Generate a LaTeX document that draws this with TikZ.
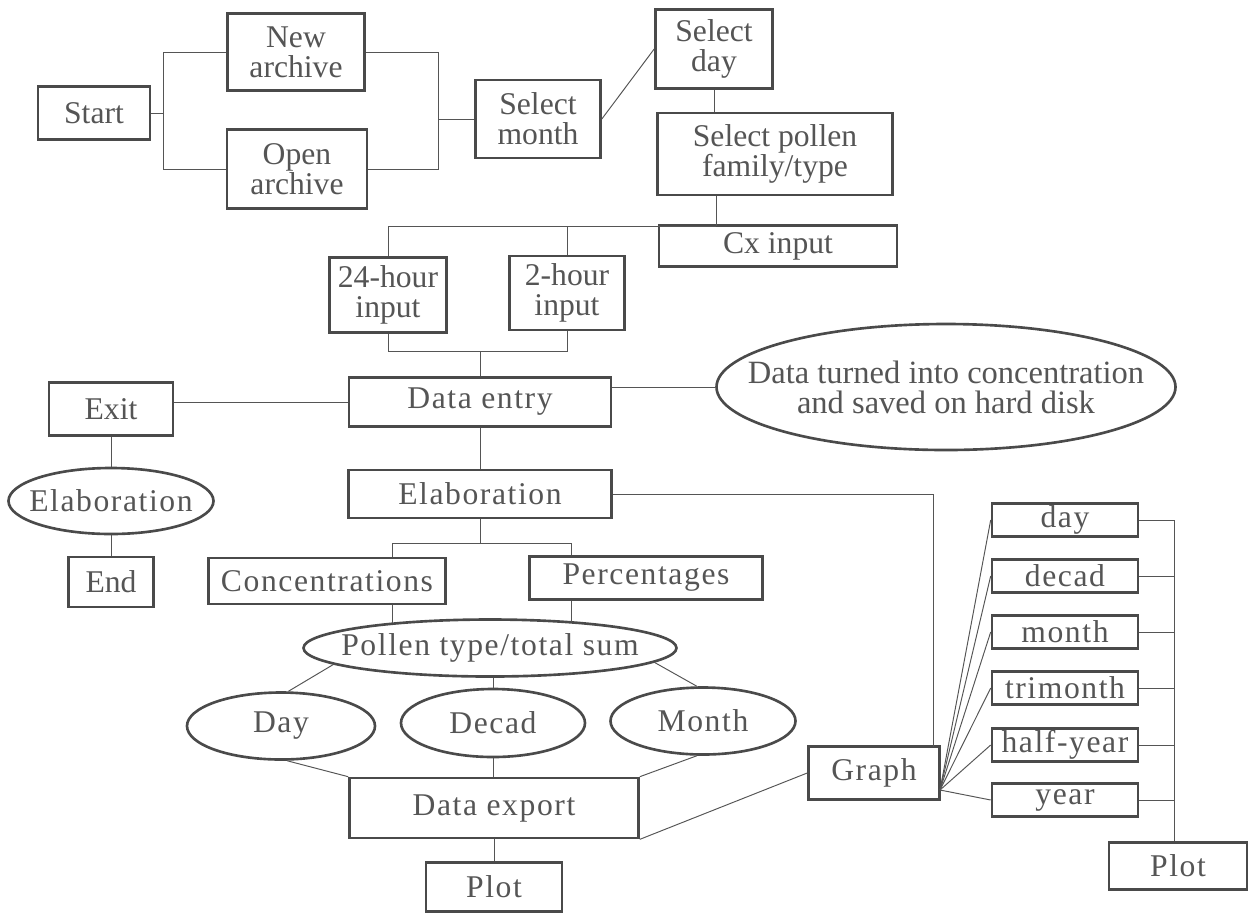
\documentclass[tikz,border=0pt]{standalone}
\usepackage{fontspec}
\setmainfont{Liberation Serif}
\newfontfamily\spacedfont[LetterSpace=5]{Liberation Serif}
\usetikzlibrary{shapes.geometric}
\definecolor{ink}{HTML}{555555}
\definecolor{rim}{HTML}{4A4A4A}
\tikzset{
  box/.style={
    draw = rim,
    line width = 1.5pt,
    shape = rectangle,
    inner sep = 0pt,
    align = center,
    text = ink,
    font = \fontsize{18}{17}\selectfont
  },
  oval/.style={
    box,
    shape = ellipse,
    inner xsep = -9mm
  },
  wide/.style={
    font = \spacedfont\fontsize{18}{17}\selectfont
  },
  sz/.style args={#1/#2}{
    minimum width = #1*0.2mm,
    minimum height = #2*0.2mm
  },
  wire/.style={
    draw = ink,
    line width = 0.55pt
  }
}

\begin{document}
\begin{tikzpicture}[x=0.2mm, y=-0.2mm]
    \useasboundingbox (0,0) rectangle (1252,913);

    % opening the archive
    \node[box, sz=112/53] (start) at (94,113) {Start};
    \node[box, sz=137/77] (newar) at (296,52) {New\\archive};
    \node[box, sz=140/79] (openar) at (297,169) {Open\\archive};
    \node[box, sz=125/78] (selmonth) at (538,119) {Select\\month};
    \node[box, sz=117/79] (selday) at (714,49) {Select\\day};
    \node[box, sz=235/82] (famtype) at (775,154) {Select pollen\\family/type};
    \node[box, sz=238/41] (cxin) at (778,246) {Cx input};
    \node[box, sz=117/75] (h24) at (388,295) {24-hour\\input};
    \node[box, sz=115/74] (h2) at (567,293) {2-hour\\input};

    \coordinate (jstart) at (163,113);
    \coordinate (jmonth) at (438,119);
    \coordinate (jcx) at (716,226);
    \coordinate (jin) at (480,351);

    \draw[wire] (start.east) -- (jstart);
    \draw[wire] (newar.west) -| (jstart);
    \draw[wire] (openar.west) -| (jstart);
    \draw[wire] (newar.east) -| (jmonth);
    \draw[wire] (openar.east) -| (jmonth);
    \draw[wire] (jmonth) -- (selmonth.west);
    \draw[wire] (selmonth.east) -- (selday.west);
    \draw[wire] (selday.south) -- (selday.south |- famtype.north);
    \draw[wire] (famtype.south -| jcx) -- (jcx);
    \draw[wire] (h24.north) |- (jcx);
    \draw[wire] (h2.north) -- (h2.north |- jcx);
    \draw[wire] (h24.south) |- (jin);
    \draw[wire] (h2.south) |- (jin);

    % data entry
    \node[box, wide, sz=262/49] (entry) at (480,402) {Data entry};
    \node[box, sz=124/53] (exit) at (111,409) {Exit};
    \node[oval, sz=459/126, font=\fontsize{18.5}{17}\selectfont] (turned) at (946,387)
        {Data turned into concentration\\and saved on hard disk};
    \node[oval, wide, sz=205/66] (elabL) at (111,501) {Elaboration};
    \node[box, sz=85/50] (endn) at (111,582) {End};

    \draw[wire] (jin) -- (jin |- entry.north);
    \draw[wire] (entry.west -| exit.east) -- (entry.west);
    \draw[wire] (turned.west -| entry.east) -- (turned.west);
    \draw[wire] (exit.south) -- (elabL.north);
    \draw[wire] (elabL.south) -- (endn.north);

    % elaboration
    \node[box, wide, sz=263/48] (elab) at (480,494) {Elaboration};
    \node[box, wide, sz=237/46] (conc) at (327,581) {Concentrations};
    \node[box, wide, sz=233/43] (perc) at (646,578) {Percentages};
    \node[oval, wide, sz=373/57] (pollen) at (490,648) {Pollen type/total sum};
    \node[oval, wide, sz=188/67] (dayE) at (281,726) {Day};
    \node[oval, wide, sz=184/68] (decadE) at (493,723) {Decad};
    \node[oval, wide, sz=185/67] (monthE) at (703,721) {Month};
    \node[box, wide, sz=289/60] (export) at (494,808) {Data export};
    \node[box, wide, sz=136/49] (plotA) at (494,887) {Plot};

    \coordinate (jelL) at (392,543);
    \coordinate (jelR) at (571,543);

    \draw[wire] (entry.south) -- (elab.north);
    \draw[wire] (elab.south) -- (elab.south |- jelL);
    \draw[wire] (jelL) -- (jelR);
    \draw[wire] (jelL) -- (jelL |- conc.north);
    \draw[wire] (jelR) -- (jelR |- perc.north);
    \draw[wire] (conc.south -| jelL) -- (jelL |- pollen.166);
    \draw[wire] (perc.south -| jelR) -- (jelR |- pollen.17);
    \draw[wire] (pollen.186) -- (dayE.78);
    \draw[wire] (decadE.north) -- (decadE.north |- pollen.south);
    \draw[wire] (pollen.-5) -- (monthE.100);
    \draw[wire] (dayE.-80) -- (export.north west);
    \draw[wire] (decadE.south) -- (decadE.south |- export.north);
    \draw[wire] (monthE.-100) -- (export.north east);
    \draw[wire] (export.south) -- (plotA.north);

    % graphs
    \node[box, wide, sz=131/53] (graph) at (874,773) {Graph};
    \node[box, wide, sz=138/47] (plotB) at (1178,866) {Plot};

    \coordinate (jgr) at (933,747);
    \coordinate (gfan) at (940,790);
    \coordinate (jpl) at (1174,520);

    \draw[wire] (elab.east) -| (jgr);
    \draw[wire] (export.south east) -- (graph.west);

    \foreach \nm/\tx/\yy in {gday/day/520, gdecad/decad/576, gmonth/month/632,
                             gtri/trimonth/688, ghalf/half-year/745, gyear/year/800}{
        \node[box, wide, sz=146/33] (\nm) at (1065,\yy) {\tx};
        \draw[wire] (gfan) -- (\nm.west);
        \draw[wire] (\nm.east) -- (\nm.east -| jpl);
    }
    \draw[wire] (jpl) -- (jpl |- plotB.north);
\end{tikzpicture}
\end{document}
